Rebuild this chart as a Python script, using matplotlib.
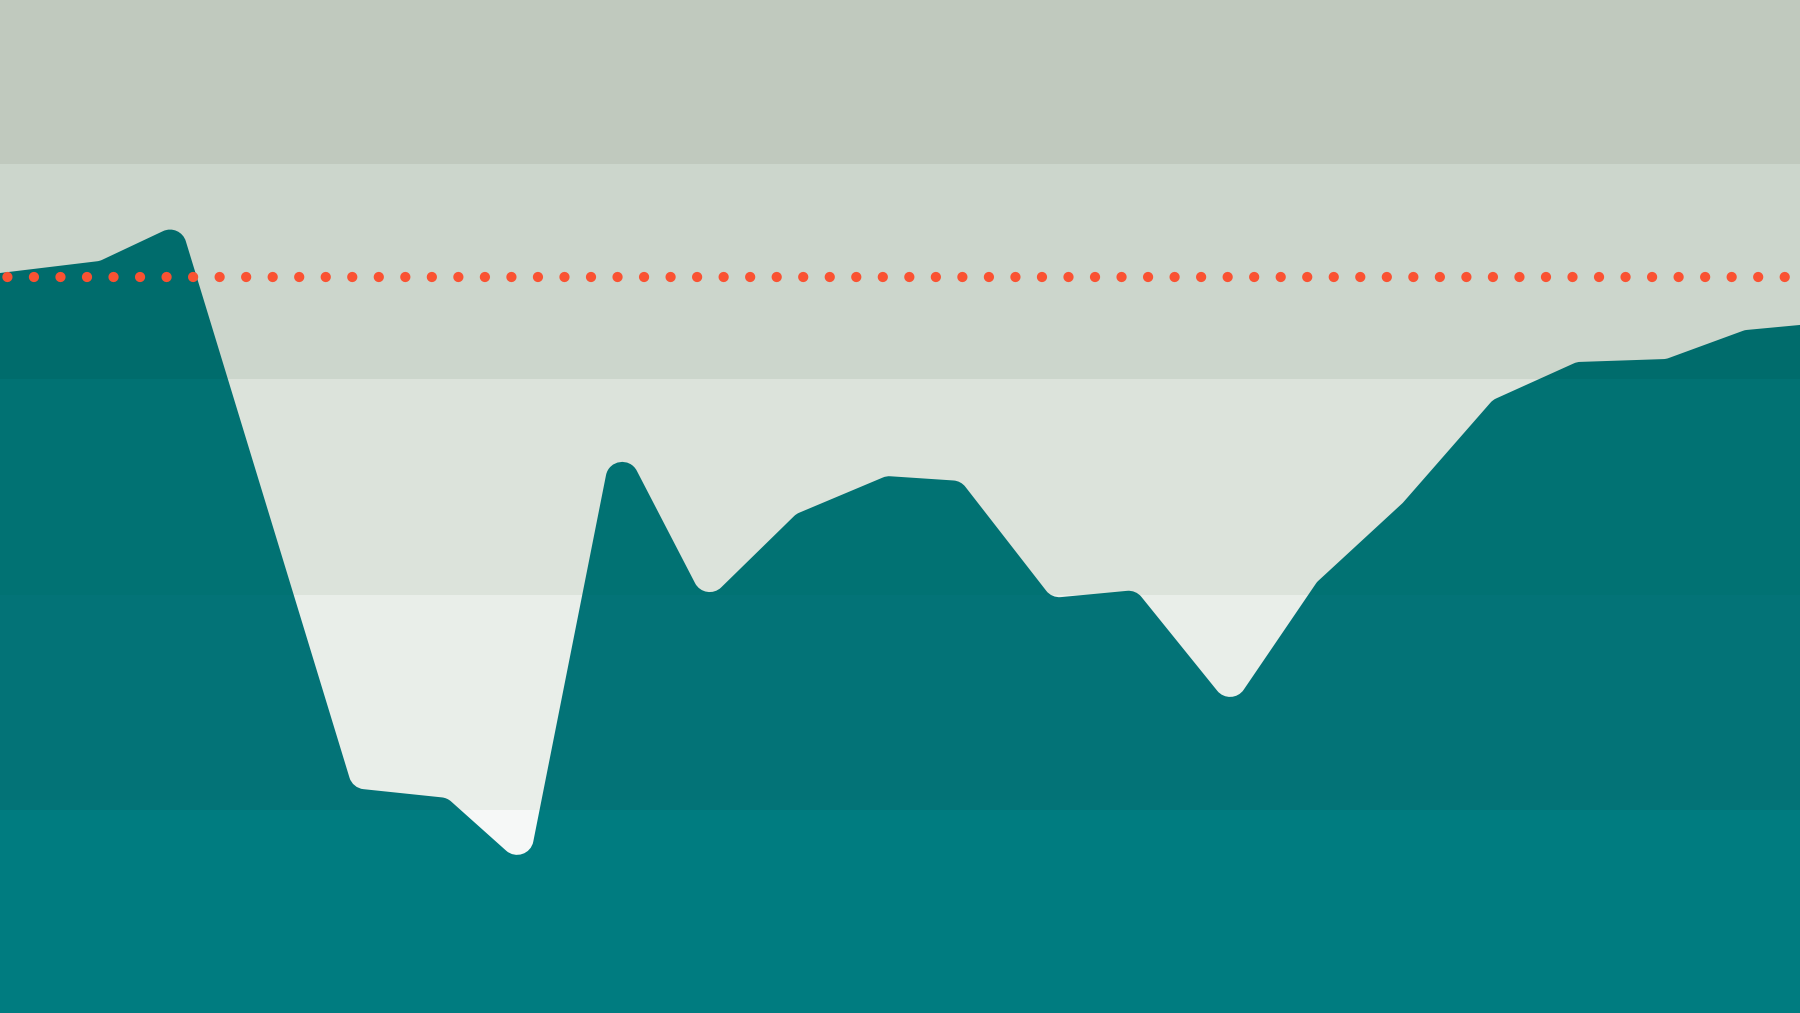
import matplotlib.pyplot as plt
import numpy as np
from matplotlib.path import Path
from matplotlib.patches import PathPatch, Rectangle

# series (x in months, fractional; y in chart units)
x_vals = [0.0, 1.14, 2.06, 4.03, 5.11, 6.03, 7.03, 8.06, 9.10, 10.13, 10.98,
          12.02, 12.98, 14.07, 15.05, 16.03, 17.06, 18.02, 19.04, 19.94, 20.57]
y_vals = [34.92, 35.48, 37.24, 11.02, 10.56, 7.22, 27.68, 19.61, 23.74, 25.50, 25.27,
          19.84, 20.21, 14.73, 20.58, 24.25, 29.03, 30.79, 30.93, 32.27, 32.51]
target = 34.75

y_min, y_max = 0.58, 47.59
band_edges = [y_min, 10, 20, 30, 40, y_max]
band_bg = ["#F6F8F7", "#E9EEE9", "#DCE3DB", "#CCD6CC", "#C0C9BE"]
band_fg = ["#007C80", "#037377", "#017273", "#006C6C", "#00666A"]

fig = plt.figure(figsize=(18, 10.13), dpi=100)
ax = fig.add_axes([0, 0, 1, 1])
ax.set_xlim(x_vals[0], x_vals[-1])
ax.set_ylim(y_min, y_max)
ax.axis("off")

for lo, hi, c in zip(band_edges[:-1], band_edges[1:], band_bg):
    ax.axhspan(lo, hi, color=c, lw=0, zorder=0)

# area outline with rounded corners (radius in pixels)
R = 16.5
pts = ax.transData.transform(np.column_stack([x_vals, y_vals]))
verts = [pts[0]]
codes = [Path.MOVETO]
for i in range(1, len(pts) - 1):
    p0, v, p2 = pts[i - 1], pts[i], pts[i + 1]
    d_in = v - p0
    d_out = p2 - v
    l_in = np.hypot(*d_in)
    l_out = np.hypot(*d_out)
    u_in = d_in / l_in
    u_out = d_out / l_out
    turn = np.arccos(np.clip(np.dot(u_in, u_out), -1, 1))
    if turn < 1e-3:
        verts.append(v)
        codes.append(Path.LINETO)
        continue
    t = R * np.tan(turn / 2)
    t = min(t, 0.5 * l_in, 0.5 * l_out)
    r = t / np.tan(turn / 2)
    a = v - u_in * t
    b = v + u_out * t
    h = 4 / 3 * np.tan(turn / 4) * r
    verts += [a, a + u_in * h, b - u_out * h, b]
    codes += [Path.LINETO, Path.CURVE4, Path.CURVE4, Path.CURVE4]
verts.append(pts[-1])
codes.append(Path.LINETO)
bottom = ax.transData.transform([[x_vals[-1], y_min], [x_vals[0], y_min]])
verts += [bottom[0], bottom[1], pts[0]]
codes += [Path.LINETO, Path.LINETO, Path.CLOSEPOLY]
verts = ax.transData.inverted().transform(np.array(verts))
area_path = Path(verts, codes)

for lo, hi, c in zip(band_edges[:-1], band_edges[1:], band_fg):
    patch = PathPatch(area_path, facecolor=c, edgecolor="none", zorder=1)
    ax.add_patch(patch)
    clip = Rectangle((x_vals[0], lo), x_vals[-1] - x_vals[0], hi - lo,
                     transform=ax.transData, visible=False)
    ax.add_patch(clip)
    patch.set_clip_path(clip)

ax.axhline(target, color="#FA5232", lw=7.4, linestyle=(1.86, (0.001, 2.58)),
           dash_capstyle="round", zorder=3)

plt.savefig("out.png", dpi=100, facecolor="white")
plt.close()
